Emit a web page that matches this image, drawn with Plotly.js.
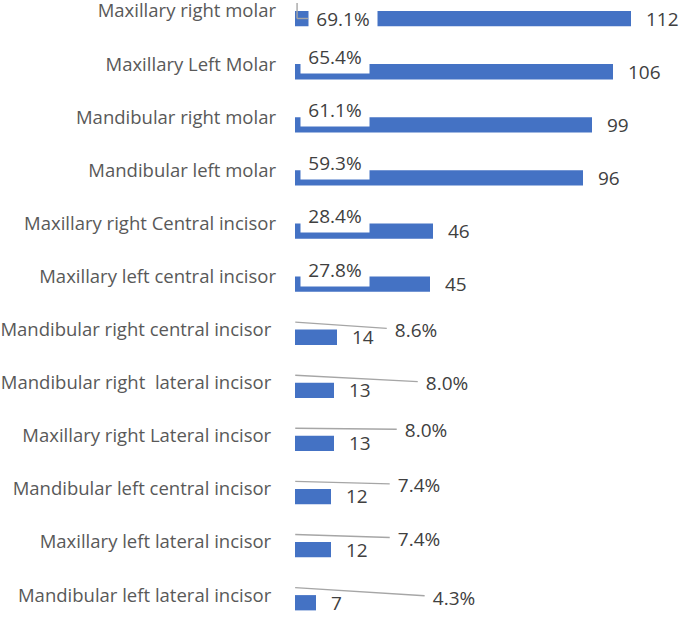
<!DOCTYPE html>
<html>
<head>
<meta charset="utf-8">
<script src="https://cdn.plot.ly/plotly-3.0.1.min.js"></script>
<style>
html,body{margin:0;padding:0;background:#fff;}
#chart{width:685px;height:620px;}
</style>
</head>
<body>
<div id="chart"></div>
<script>
// ---- data ----
const categories = [
  'Maxillary right molar',
  'Maxillary Left Molar',
  'Mandibular right molar',
  'Mandibular left molar',
  'Maxillary right Central incisor',
  'Maxillary left central incisor',
  'Mandibular right central incisor\u00a0',
  'Mandibular right\u00a0 lateral incisor\u00a0',
  'Maxillary right Lateral incisor\u00a0',
  'Mandibular left central incisor\u00a0',
  'Maxillary left lateral incisor\u00a0',
  'Mandibular left lateral incisor\u00a0'
];
const counts = [112, 106, 99, 96, 46, 45, 14, 13, 13, 12, 12, 7];
const percents = [69.1, 65.4, 61.1, 59.3, 28.4, 27.8, 8.6, 8.0, 8.0, 7.4, 7.4, 4.3];

// ---- label placement (pixel offsets, not data) ----
// rows 0..5: boxed labels near bar start; rows 6..11: callouts with leader lines
const boxShiftX = [47.5, 40, 40, 40, 40, 40];
const boxShiftY = [-7.5, 7, 7, 7, 7, 7];
const calloutAx = [121, 152, 131, 124, 124, 159];
const calloutAy = [8.3, 8, 1.2, 3.3, 4, 10];

const FONT = '"Open Sans", Lato, sans-serif';
const FS_TICK = 18.5;
const FS_LBL = 19;
const BLUE = '#4472C4';
const LEAD = '#A6A6A6';
const PXX = 3.0;     // px per x unit
const PXY = 53.1;    // px per category

const pctFrac = percents.map(p => p / 100);

const traces = [
  {
    type: 'bar', orientation: 'h', y: categories, x: pctFrac,
    marker: {color: 'rgba(0,0,0,0)'}, hoverinfo: 'skip', name: 'Percent'
  },
  {
    type: 'bar', orientation: 'h', y: categories, x: counts,
    marker: {color: BLUE}, name: 'Count'
  }
];

const annotations = [];
// count labels
counts.forEach((v, i) => {
  annotations.push({
    x: v, y: categories[i], xref: 'x', yref: 'y',
    text: String(v), showarrow: false, xanchor: 'left', yanchor: 'middle',
    xshift: 14, yshift: -7.5, borderpad: 0,
    font: {family: FONT, size: FS_LBL, color: '#404040'}
  });
});
// percent labels
percents.forEach((p, i) => {
  const txt = p.toFixed(1) + '%';
  if (i < 6) {
    annotations.push({
      x: 0, y: categories[i], xref: 'x', yref: 'y',
      text: txt, showarrow: false, xanchor: 'center', yanchor: 'middle',
      xshift: boxShiftX[i], yshift: boxShiftY[i],
      bgcolor: '#ffffff', borderpad: 0, width: 68, height: 32,
      font: {family: FONT, size: FS_LBL, color: '#404040'}
    });
  } else {
    const k = i - 6;
    annotations.push({
      x: pctFrac[i], y: categories[i], xref: 'x', yref: 'y',
      text: txt, showarrow: true, arrowhead: 0, arrowwidth: 1.4, arrowcolor: LEAD,
      standoff: 0, ax: calloutAx[k], ay: calloutAy[k], yshift: 7.5,
      width: 46, borderpad: 6,
      font: {family: FONT, size: FS_LBL, color: '#404040'}
    });
  }
});

// elbow leader for the first label
const shapes = [
  {type: 'line', xref: 'x', yref: 'y', x0: pctFrac[0], x1: pctFrac[0],
   y0: -8 / PXY, y1: 7.5 / PXY, line: {color: LEAD, width: 1.4}},
  {type: 'line', xref: 'x', yref: 'y', x0: pctFrac[0], x1: 13 / PXX,
   y0: 7.5 / PXY, y1: 7.5 / PXY, line: {color: LEAD, width: 1.4}}
];

const layout = {
  width: 685, height: 620,
  margin: {l: 295, r: 0, t: 0, b: 0, pad: 0},
  paper_bgcolor: '#ffffff', plot_bgcolor: '#ffffff',
  showlegend: false,
  barmode: 'group', bargap: 0.424, bargroupgap: 0,
  xaxis: {range: [0, 390 / PXX], visible: false, fixedrange: true},
  yaxis: {
    type: 'category',
    range: [609 / PXY, -11 / PXY],
    showgrid: false, zeroline: false, showline: false, ticks: '',
    ticklabelstandoff: 18,
    tickfont: {family: FONT, size: FS_TICK, color: '#595959'},
    fixedrange: true
  },
  annotations: annotations,
  shapes: shapes
};

Plotly.newPlot('chart', traces, layout, {displayModeBar: false, staticPlot: true});
</script>
</body>
</html>
